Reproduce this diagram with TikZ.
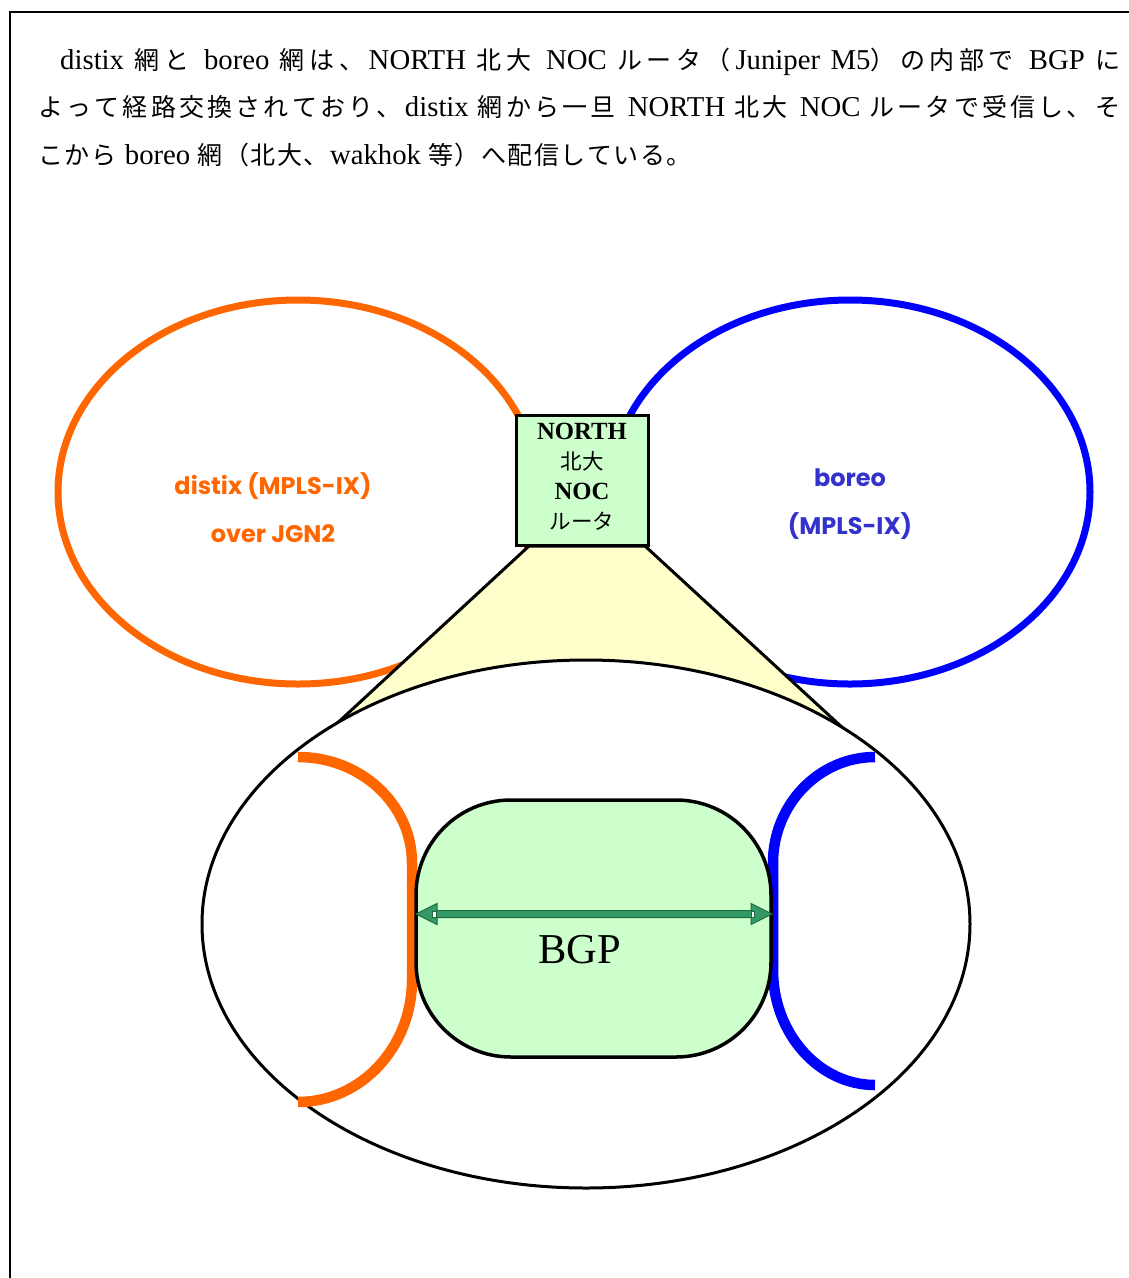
\documentclass[tikz,border=0pt]{standalone}
\usepackage{fontspec}
\setmainfont{Liberation Serif}[Scale=1.15]
\newfontfamily\jp{Noto Sans CJK JP}
\newfontfamily\lbl{Poppins}
\newskip\jgap
\makeatletter
\newcommand\jx[1]{{\jp\@tfor\jtok:=#1\do{\jtok\hskip\jgap}}}
\makeatother
\definecolor{orangeC}{HTML}{FF6600}
\definecolor{blueC}{HTML}{0000FF}
\definecolor{lblue}{HTML}{3333CC}
\definecolor{lgreen}{HTML}{CCFFCC}
\definecolor{lyellow}{HTML}{FFFFCC}
\definecolor{agreen}{HTML}{339966}
\definecolor{dgreen}{HTML}{1E6B3C}
\tikzset{
  ring/.style={line width=7},
  halfring/.style={line width=10.5},
  nocbox/.style={draw, line width=3, fill=lgreen, minimum width=132, minimum height=130, inner sep=0},
  bgpbox/.style={draw, line width=3.5, fill=lgreen, rounded corners=95pt, minimum width=355, minimum height=257, inner sep=0},
  para/.style={anchor=base west, inner sep=0, font=\fontsize{25}{28}\selectfont},
  netlabel/.style={align=center, inner sep=0, font=\lbl\bfseries\fontsize{24}{48}\selectfont},
  bgparrow/.style={fill=agreen, draw=dgreen, line width=1, line join=miter}
}
\begin{document}
\begin{tikzpicture}[x=1pt,y=-1pt]
\useasboundingbox (0,0) rectangle (1128,1278);
% frame
\draw[line width=2.5] (1140,12) -- (10,12) -- (10,1290);
% paragraph
\node[para] (p1) at (60,69) {\jgap=0.5pt plus 1fil\makebox[1060pt][s]{\spaceskip=0.22em plus 1fil distix \jx{網と} boreo \jx{網は、}NORTH \jx{北大} NOC \jx{ルータ（}Juniper M5\jx{）の内部で} BGP {\jp に}}};
\node[para] (p2) at (38,116) {\jgap=0.5pt plus 1fil\makebox[1082pt][s]{\spaceskip=0.22em plus 1fil \jx{よって経路交換されており、}distix \jx{網から一旦} NORTH \jx{北大} NOC \jx{ルータで受信し、}{\jp そ}}};
\node[para] (p3) at (38,164) {\jgap=1.5pt\jx{こから} boreo \jx{網（北大、}wakhok \jx{等）へ配信している。}};
% network rings
\draw[ring, orangeC] (298,492) ellipse [x radius=240, y radius=192];
\draw[ring, blueC] (850,492) ellipse [x radius=240, y radius=192];
% zoom trapezoid
\coordinate (tl) at (529,546);
\coordinate (tr) at (645,546);
\coordinate (bl) at (300,757.6);
\coordinate (br) at (870,753);
\filldraw[fill=lyellow, line width=3, line join=round] (tl) -- (bl) -- (br) -- (tr) -- cycle;
% big ellipse
\draw[line width=3, fill=white] (586,924) ellipse [x radius=384, y radius=264];
% half rings
\draw[halfring, orangeC] (298,757) .. controls (361,757) and (412,804.5) .. (412,863) -- (412,980) .. controls (412,1047) and (361,1102) .. (298,1102);
\draw[halfring, blueC] (875,757) .. controls (819,757) and (773,804.5) .. (773,863) -- (773,970) .. controls (773,1033.5) and (819,1085) .. (875,1085);
% BGP box
\node[bgpbox] (bgp) at (593.5,928.5) {};
\coordinate (aL) at (416,914);
\coordinate (aR) at (772,914);
\filldraw[bgparrow] (aL) -- ++(21,-10.5) -- ++(0,7) -- ++(314,0) -- ++(0,-7) -- (aR) -- ++(-21,10.5) -- ++(0,-7) -- ++(-314,0) -- ++(0,7) -- cycle;
\filldraw[fill=white, draw=dgreen, line width=0.6] (432.5,911) rectangle (436.5,917.5);
\filldraw[fill=white, draw=dgreen, line width=0.6] (751.5,911) rectangle (754.5,917.5);
\node[inner sep=0, font=\fontsize{37}{40}\selectfont] (bgptext) at (580,950) {BGP};
% NOC router
\node[nocbox] (noc) at (582,480) {};
\node[align=center, inner sep=0, font=\fontsize{21.5}{30}\selectfont] (noctext) at (582,477) {\textbf{NORTH}\\{\jp 北大}\\\textbf{NOC}\\{\jp ルータ}};
% labels
\node[netlabel, text=orangeC] (dlabel) at (273,508) {distix (MPLS-IX)\\over JGN2};
\node[netlabel, text=lblue] (blabel) at (850,504) {boreo\\(MPLS-IX)};
\end{tikzpicture}
\end{document}
